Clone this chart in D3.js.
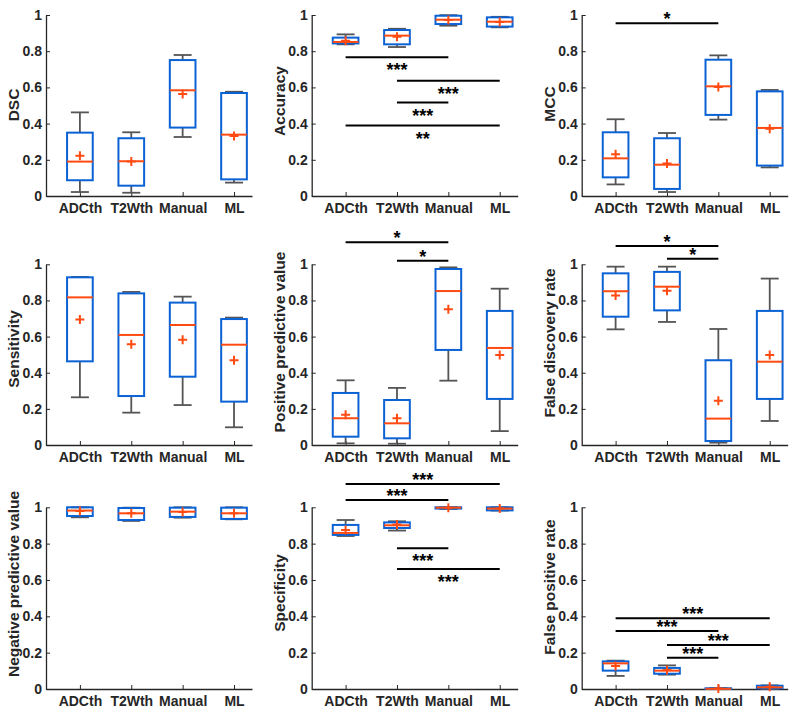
<!DOCTYPE html>
<html><head><meta charset="utf-8">
<script src="https://cdn.jsdelivr.net/npm/d3@7"></script>
<style>
html,body{margin:0;padding:0;background:#fff;}
svg{display:block;font-family:"Liberation Sans",Arial,Helvetica,sans-serif;}
</style></head>
<body>
<svg id="chart" width="794" height="712"></svg>
<script>
// ---------------- DATA ----------------
const categories = ["ADCth", "T2Wth", "Manual", "ML"];
const yTicks = [0, 0.2, 0.4, 0.6, 0.8, 1];
const metricNames = ["DSC", "Accuracy", "MCC",
  "Sensitivity", "Positive predictive value", "False discovery rate",
  "Negative predictive value", "Specificity", "False positive rate"];

// each row: [lowerWhisker, q1, median, q3, upperWhisker, mean]
const DSC = [
  [0.022, 0.087, 0.190, 0.350, 0.462, 0.223],
  [0.018, 0.057, 0.192, 0.319, 0.352, 0.190],
  [0.326, 0.378, 0.584, 0.751, 0.779, 0.564],
  [0.074, 0.092, 0.339, 0.569, 0.576, 0.331]];
const Accuracy = [
  [0.838, 0.843, 0.851, 0.875, 0.893, 0.858],
  [0.823, 0.838, 0.886, 0.917, 0.924, 0.880],
  [0.941, 0.950, 0.974, 0.996, 0.999, 0.972],
  [0.932, 0.936, 0.963, 0.987, 0.990, 0.961]];
const MCC = [
  [0.064, 0.103, 0.208, 0.352, 0.424, 0.230],
  [0.022, 0.039, 0.173, 0.319, 0.348, 0.179],
  [0.422, 0.448, 0.606, 0.753, 0.777, 0.602],
  [0.158, 0.168, 0.376, 0.578, 0.586, 0.372]];
const Sensitivity = [
  [0.264, 0.463, 0.817, 0.928, 0.930, 0.694],
  [0.179, 0.271, 0.609, 0.839, 0.847, 0.557],
  [0.221, 0.378, 0.664, 0.788, 0.821, 0.583],
  [0.098, 0.240, 0.555, 0.697, 0.705, 0.469]];
const PPV = [
  [0.009, 0.046, 0.148, 0.288, 0.358, 0.168],
  [0.007, 0.037, 0.120, 0.249, 0.316, 0.148],
  [0.356, 0.526, 0.852, 0.974, 0.983, 0.751],
  [0.077, 0.255, 0.537, 0.742, 0.865, 0.498]];
const FDR = [
  [0.640, 0.710, 0.851, 0.950, 0.987, 0.827],
  [0.681, 0.745, 0.876, 0.958, 0.987, 0.854],
  [0.013, 0.022, 0.146, 0.469, 0.642, 0.245],
  [0.133, 0.255, 0.461, 0.742, 0.921, 0.498]];
const NPV = [
  [0.945, 0.952, 0.982, 1.000, 1.000, 0.979],
  [0.925, 0.930, 0.967, 0.996, 0.998, 0.967],
  [0.943, 0.947, 0.976, 0.998, 1.000, 0.974],
  [0.934, 0.936, 0.967, 0.998, 1.000, 0.967]];
const Specificity = [
  [0.842, 0.848, 0.859, 0.903, 0.930, 0.875],
  [0.872, 0.886, 0.901, 0.917, 0.923, 0.906],
  [0.991, 0.993, 0.998, 1.000, 1.000, 0.998],
  [0.982, 0.983, 0.993, 1.000, 1.000, 0.993]];
const FPR = [
  [0.072, 0.101, 0.141, 0.152, 0.156, 0.127],
  [0.079, 0.084, 0.101, 0.116, 0.130, 0.105],
  [0.000, 0.000, 0.001, 0.004, 0.005, 0.003],
  [0.000, 0.004, 0.009, 0.018, 0.020, 0.013]];

// significance bars: [fromIndex, toIndex, yValue, label, side]
const DSC_sig = [];
const Accuracy_sig = [
  [0, 2, 0.766, "***", "below"],
  [1, 3, 0.637, "***", "below"],
  [1, 2, 0.516, "***", "below"],
  [0, 3, 0.389, "**", "below"]];
const MCC_sig = [[0, 2, 0.954, "*", "above"]];
const Sensitivity_sig = [];
const PPV_sig = [
  [0, 2, 1.122, "*", "above"],
  [1, 2, 1.020, "*", "above"]];
const FDR_sig = [
  [0, 2, 1.101, "*", "above"],
  [1, 2, 1.031, "*", "above"]];
const NPV_sig = [];
const Specificity_sig = [
  [0, 3, 1.128, "***", "above"],
  [0, 2, 1.040, "***", "above"],
  [1, 2, 0.774, "***", "below"],
  [1, 3, 0.661, "***", "below"]];
const FPR_sig = [
  [0, 3, 0.389, "***", "above"],
  [0, 2, 0.319, "***", "above"],
  [1, 3, 0.242, "***", "above"],
  [1, 2, 0.172, "***", "above"]];

const panelData = [DSC, Accuracy, MCC, Sensitivity, PPV, FDR, NPV, Specificity, FPR];
const panelSig = [DSC_sig, Accuracy_sig, MCC_sig, Sensitivity_sig, PPV_sig, FDR_sig, NPV_sig, Specificity_sig, FPR_sig];

// ---------------- LAYOUT ----------------
const colLeft = [46, 311.7, 581.7];
const axisWidth = 206;
const rowTop = [15, 264.3, 507.3];
const rowBottom = [196, 445, 689];
const labelX = [14, 279.5, 549.5];
const labelCY = [105, 101, 104, 349, 342, 343, 584, 593, 587];

const BLUE = "#0b62d4";
const RED = "#ff4a12";
const GRAY = "#555555";
const AX = "#262626";

const svg = d3.select("#chart");

panelData.forEach((data, p) => {
  const col = p % 3, row = Math.floor(p / 3);
  const x = d3.scaleLinear().domain([0.34, 4.35]).range([colLeft[col], colLeft[col] + axisWidth]);
  const y = d3.scaleLinear().domain([0, 1]).range([rowBottom[row], rowTop[row]]);
  const unit = x(2) - x(1);
  const g = svg.append("g");

  // axes
  const ya = g.append("g").attr("transform", `translate(${colLeft[col]},0)`)
    .call(d3.axisLeft(y).tickValues(yTicks).tickSize(-4).tickSizeOuter(0).tickPadding(4)
      .tickFormat(d => d3.format("")(+d.toFixed(1))));
  const xa = g.append("g").attr("transform", `translate(0,${rowBottom[row]})`)
    .call(d3.axisBottom(x).tickValues([1, 2, 3, 4]).tickSize(-4).tickSizeOuter(0)
      .tickFormat(i => categories[i - 1]));
  [ya, xa].forEach(a => {
    a.select(".domain").attr("stroke", AX).attr("stroke-width", 1.3);
    a.selectAll(".tick line").attr("stroke", AX).attr("stroke-width", 1);
    a.selectAll("text").attr("fill", AX).attr("font-size", 14).attr("font-weight", "bold");
  });
  xa.selectAll(".tick text").attr("y", 17).attr("dy", 0);

  // y label
  g.append("text")
    .attr("transform", `translate(${labelX[col]},${labelCY[p]}) rotate(-90)`)
    .attr("text-anchor", "middle").attr("dy", "0.35em")
    .attr("font-size", 15.5).attr("font-weight", "bold").attr("fill", AX)
    .text(metricNames[p]);

  // boxes
  const bw = 0.25 * unit, cw = 0.175 * unit, pm = 4.5;
  data.forEach((d, i) => {
    const cx = x(i + 1);
    const [lo, q1, med, q3, hi, mean] = d;
    const bg = g.append("g");
    // whiskers
    bg.append("line").attr("x1", cx).attr("x2", cx).attr("y1", y(q3)).attr("y2", y(hi))
      .attr("stroke", GRAY).attr("stroke-width", 1.8);
    bg.append("line").attr("x1", cx).attr("x2", cx).attr("y1", y(q1)).attr("y2", y(lo))
      .attr("stroke", GRAY).attr("stroke-width", 1.8);
    bg.append("line").attr("x1", cx - cw).attr("x2", cx + cw).attr("y1", y(hi)).attr("y2", y(hi))
      .attr("stroke", GRAY).attr("stroke-width", 1.8);
    bg.append("line").attr("x1", cx - cw).attr("x2", cx + cw).attr("y1", y(lo)).attr("y2", y(lo))
      .attr("stroke", GRAY).attr("stroke-width", 1.8);
    // box
    bg.append("rect").attr("x", cx - bw).attr("width", 2 * bw)
      .attr("y", y(q3)).attr("height", Math.max(0.5, y(q1) - y(q3)))
      .attr("fill", "none").attr("stroke", BLUE).attr("stroke-width", 2);
    // median
    bg.append("line").attr("x1", cx - bw).attr("x2", cx + bw).attr("y1", y(med)).attr("y2", y(med))
      .attr("stroke", RED).attr("stroke-width", 2);
    // mean marker
    bg.append("path")
      .attr("d", `M${cx - pm},${y(mean)}H${cx + pm}M${cx},${y(mean) - pm}V${y(mean) + pm}`)
      .attr("stroke", RED).attr("stroke-width", 2).attr("fill", "none");
  });

  // significance
  panelSig[p].forEach(s => {
    const [a, b, v, lab, side] = s;
    const x1 = x(a + 1), x2 = x(b + 1), yy = y(v);
    g.append("line").attr("x1", x1).attr("x2", x2).attr("y1", yy).attr("y2", yy)
      .attr("stroke", "#000").attr("stroke-width", 2);
    g.append("text").attr("x", (x1 + x2) / 2).attr("y", side === "above" ? yy + 2 : yy + 19)
      .attr("text-anchor", "middle").attr("font-size", 18).attr("font-weight", "bold")
      .attr("fill", "#000").text(lab);
  });
});
</script>
</body></html>
